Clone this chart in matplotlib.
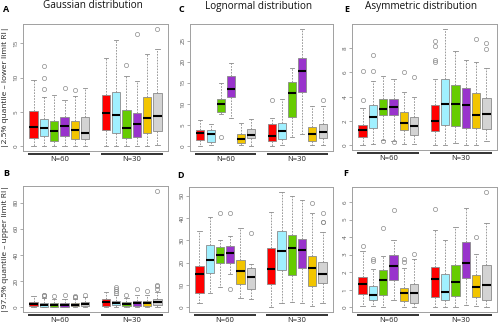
import matplotlib
matplotlib.use("Agg")
import matplotlib.pyplot as plt
from matplotlib.transforms import blended_transform_factory

plt.rcParams['font.family'] = ['Open Sans', 'DejaVu Sans']

colors = ['#FF0000', '#A0F0FF', '#66CC00', '#9933CC', '#F2C500', '#D3D3D3']
positions = [1, 2, 3, 4, 5, 6, 8, 9, 10, 11, 12, 13]
group_labels = ['N=60', 'N=30']

# ---- Panel A: Gaussian, lower limit ----
A_lo = [0, 0, 0, 0, 0, 0, 0, 0, 0, 0, 0, 0.15]
A_q1 = [1.2, 1.45, 0.8, 1.55, 1.1, 1.05, 2.35, 2.0, 1.2, 1.35, 2.0, 2.2]
A_med = [2.8, 2.65, 2.2, 2.9, 2.4, 2.0, 4.85, 4.5, 2.7, 3.3, 4.1, 4.45]
A_q3 = [5.1, 4.0, 3.65, 4.3, 3.75, 4.2, 7.5, 7.9, 5.25, 4.9, 7.2, 7.7]
A_hi = [9.6, 7.2, 7.4, 6.7, 7.3, 8.55, 12.9, 15.4, 10.3, 9.45, 13.5, 14.2]
A_out = [[], [8.4, 10.0, 11.7], [], [8.45], [8.25], [],
         [], [], [11.9], [16.35], [], [17.05]]

# ---- Panel B: Gaussian, upper limit ----
B_lo = [0, 0, 0, 0, 0, 0, 0, 0, 0, 0, 0, 0]
B_q1 = [0.8, 0.5, 0.5, 0.5, 0.8, 0.8, 1.0, 1.5, 1.0, 1.3, 1.0, 1.8]
B_med = [2.6, 2.1, 1.8, 1.9, 1.5, 2.6, 3.85, 3.6, 2.6, 3.3, 3.1, 3.85]
B_q3 = [3.85, 3.6, 3.1, 3.3, 3.1, 3.85, 6.4, 5.1, 3.85, 5.1, 5.1, 6.4]
B_hi = [8.5, 6.9, 6.4, 6.4, 6.4, 7.7, 12.0, 9.0, 7.2, 9.0, 9.0, 11.5]
B_out = [[], [8.5, 9.0, 9.5], [8.5], [9.0], [7.7, 8.2, 8.7], [9.5],
         [], [10.8, 12.3, 13.8, 15.4], [9.0], [13.6], [12.8], [14.1, 15.9, 17.2, 89.0]]

# ---- Panel C: Lognormal, lower limit ----
C_lo = [0, 0.25, 7.7, 6.6, 0.4, 0.1, 0, 0.25, 2.2, 2.95, 0.25, 0.4]
C_q1 = [1.6, 1.1, 8.0, 11.55, 0.9, 2.0, 1.35, 1.75, 7.0, 12.9, 1.35, 2.0]
C_med = [3.2, 2.85, 9.9, 13.5, 1.65, 2.6, 2.55, 3.6, 12.5, 17.9, 2.95, 3.35]
C_q3 = [3.9, 3.8, 11.3, 16.7, 3.0, 4.0, 5.2, 5.6, 15.3, 20.9, 4.6, 5.2]
C_hi = [6.3, 5.2, 15.0, 19.7, 5.6, 6.35, 6.8, 11.1, 18.5, 27.8, 9.5, 9.5]
C_out = [[], [], [2.15], [], [], [],
         [11.0], [], [], [], [], [11.0]]

# ---- Panel D: Lognormal, upper limit ----
D_lo = [2.1, 6.5, 9.2, 15.1, 4.0, 3.6, 0, 1.8, 2.5, 2.1, 0.7, 1.8]
D_q1 = [6.5, 15.4, 19.9, 20.0, 10.4, 8.0, 10.4, 16.9, 14.4, 17.8, 9.6, 10.7]
D_med = [15.0, 21.4, 23.6, 24.2, 16.2, 13.8, 17.1, 25.3, 26.7, 25.5, 17.8, 14.8]
D_q3 = [18.5, 28.0, 27.0, 27.4, 21.1, 17.7, 26.6, 34.1, 32.2, 30.4, 23.0, 20.2]
D_hi = [34.1, 40.4, 30.3, 31.9, 35.5, 19.3, 42.9, 51.8, 50.0, 48.1, 42.1, 33.7]
D_out = [[], [], [42.3], [42.3, 8.0], [], [33.4],
         [], [], [], [], [46.6], [38.0, 38.4, 42.1]]

# ---- Panel E: Asymmetric, lower limit ----
E_lo = [0, 0.1, 0.45, 0.35, 0.1, 0.1, 0, 0, 0.15, 0.05, 0, 0.35]
E_q1 = [0.7, 1.45, 2.5, 2.5, 1.25, 0.85, 1.15, 1.65, 1.57, 1.4, 1.45, 1.3]
E_med = [1.27, 2.35, 2.95, 3.15, 1.8, 1.55, 2.0, 3.4, 3.4, 3.35, 2.45, 2.6]
E_q3 = [1.7, 3.3, 3.85, 3.85, 2.7, 2.3, 3.35, 5.45, 5.0, 4.75, 4.3, 3.9]
E_hi = [3.1, 5.3, 5.7, 5.5, 4.35, 4.0, 5.5, 9.6, 7.8, 7.0, 6.85, 6.35]
E_out = [[3.75, 6.15], [6.1, 7.45], [0.33], [0.25], [6.05], [5.65],
         [6.9, 7.0, 8.15, 8.6], [], [], [], [8.8], [7.95, 8.4]]

# ---- Panel F: Asymmetric, upper limit ----
F_lo = [0.08, 0.08, 0.04, 0.42, 0.04, 0.04, 0.04, 0.02, 0.02, 0.13, 0.06, 0.02]
F_q1 = [0.74, 0.45, 0.7, 1.55, 0.36, 0.28, 0.61, 0.45, 0.66, 1.7, 0.61, 0.45]
F_med = [1.33, 0.68, 1.55, 2.35, 0.8, 0.8, 1.61, 0.89, 1.42, 2.5, 1.16, 1.25]
F_q3 = [1.74, 1.21, 2.12, 3.01, 1.12, 1.36, 2.31, 1.88, 2.41, 3.73, 1.84, 2.41]
F_hi = [3.22, 2.18, 2.94, 3.86, 2.22, 2.78, 4.43, 3.83, 4.55, 5.68, 3.05, 4.81]
F_out = [[3.52], [2.63, 2.73], [4.49], [5.57], [2.6, 2.73], [3.03],
         [5.62], [], [], [], [3.98], [6.57]]

panels = {
    'A': (A_lo, A_q1, A_med, A_q3, A_hi, A_out, [0, 5, 10, 15], (-0.68, 17.8)),
    'B': (B_lo, B_q1, B_med, B_q3, B_hi, B_out, [0, 20, 40, 60, 80], (-3.6, 92.6)),
    'C': (C_lo, C_q1, C_med, C_q3, C_hi, C_out, [0, 5, 10, 15, 20, 25], (-1.1, 28.9)),
    'D': (D_lo, D_q1, D_med, D_q3, D_hi, D_out, [0, 10, 20, 30, 40, 50], (-2.1, 53.9)),
    'E': (E_lo, E_q1, E_med, E_q3, E_hi, E_out, [0, 2, 4, 6, 8], (-0.4, 10.0)),
    'F': (F_lo, F_q1, F_med, F_q3, F_hi, F_out, [0, 1, 2, 3, 4, 5, 6], (-0.26, 6.85)),
}

W, H = 500, 324
# axes boxes in pixels: left, top, right, bottom
rects = {
    'A': (23, 24, 168, 151), 'C': (190, 24, 333, 151), 'E': (352, 24, 497, 150),
    'B': (23, 186, 168, 312), 'D': (189, 187, 333, 312), 'F': (352, 187, 497, 312),
}
letter_pos = {'A': (6, 10), 'C': (181, 9), 'E': (347, 10),
              'B': (6, 173), 'D': (180, 175), 'F': (346, 173)}
titles = {'A': 'Gaussian distribution', 'C': 'Lognormal distribution',
          'E': 'Asymmetric distribution'}
ylabels = {'A': '|2.5% quantile \u2013 lower limit RI|',
           'B': '|97.5% quantile \u2013 upper limit RI|'}

edge = '#8a8a8a'
fig = plt.figure(figsize=(W / 100, H / 100), dpi=100)

for key, (lo, q1, med, q3, hi, out, yt, ylim) in panels.items():
    l, t, r, b = rects[key]
    ax = fig.add_axes([l / W, 1 - b / H, (r - l) / W, (b - t) / H])
    stats = []
    for i in range(len(positions)):
        stats.append(dict(whislo=lo[i], q1=q1[i], med=med[i], q3=q3[i],
                          whishi=hi[i], fliers=out[i]))
    bp = ax.bxp(stats, positions=positions, widths=0.8, capwidths=0.4,
                patch_artist=True, showfliers=True,
                boxprops=dict(edgecolor=edge, linewidth=0.6),
                medianprops=dict(color='black', linewidth=1.5, solid_capstyle='butt'),
                whiskerprops=dict(color=edge, linewidth=0.6, linestyle=(0, (2, 1.5))),
                capprops=dict(color=edge, linewidth=0.6),
                flierprops=dict(marker='o', markerfacecolor='none',
                                markeredgecolor=edge, markersize=3, markeredgewidth=0.5))
    for i, patch in enumerate(bp['boxes']):
        patch.set_facecolor(colors[i % 6])
    ax.set_xlim(-0.02, 14.02)
    ax.set_ylim(*ylim)
    ax.set_xticks([])
    ax.set_yticks(yt)
    ax.set_yticklabels([str(v) for v in yt])
    ax.tick_params(axis='y', labelsize=4.5, labelcolor='#555555', color=edge,
                   length=2, width=0.5, pad=1, labelrotation=90)
    for lab in ax.get_yticklabels():
        lab.set_va('center')
    for sp in ax.spines.values():
        sp.set_color('#a0a0a0')
        sp.set_linewidth(0.7)
    trans = blended_transform_factory(ax.transData, ax.transAxes)
    for g, (x0, x1) in enumerate([(0.5, 6.5), (7.5, 13.5)]):
        ax.plot([x0, x1], [-0.022, -0.022], transform=trans, color='#333333',
                lw=1.4, clip_on=False, solid_capstyle='butt')
        ax.text((x0 + x1) / 2, -0.07, group_labels[g], transform=trans,
                ha='center', va='center', fontsize=5.5, color='#222222')
    lx, ly = letter_pos[key]
    fig.text(lx / W, 1 - ly / H, key, ha='center', va='center',
             fontsize=6.5, fontweight='bold')
    if key in titles:
        fig.text((l + r) / 2 / W - 0.006, 1 - 6 / H, titles[key], ha='center',
                 va='center', fontsize=7.2, color='#111111')
    if key in ylabels:
        fig.text(6 / W, 1 - ((t + b) / 2) / H, ylabels[key], rotation=90,
                 ha='center', va='center', fontsize=6.0, color='#222222')

fig.savefig('out.png', dpi=100)
